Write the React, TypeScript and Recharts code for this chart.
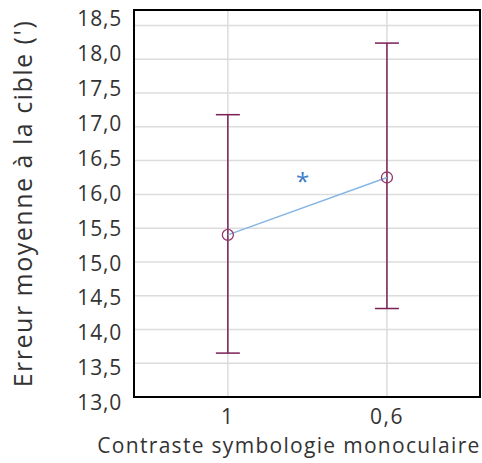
import React from 'react';
import { ComposedChart, Line, XAxis, YAxis, CartesianGrid, ErrorBar, ReferenceDot, ReferenceArea } from 'recharts';

// contraste de la symbologie (axe x) et erreur moyenne mesurée (IC 95 %)
const conditions = ['1', '0,6'];
const meanError = [15.4, 16.25];
const lowerBound = [13.65, 14.31];
const upperBound = [17.18, 18.24];
const yTicks = [13.0, 13.5, 14.0, 14.5, 15.0, 15.5, 16.0, 16.5, 17.0, 17.5, 18.0, 18.5];
const significance = { x: 0.47, y: 16.24, text: '*' };

const data = conditions.map((label, i) => ({
  pos: i,
  label,
  mean: meanError[i],
  ci: [meanError[i] - lowerBound[i], upperBound[i] - meanError[i]],
}));

const X_DOMAIN: [number, number] = [-0.59, 1.585];
const Y_DOMAIN: [number, number] = [13, 18.73];

const FONT = '"Open Sans", "Noto Sans", sans-serif';
const TEXT = '#333';
const PLUM = '#7a1f55';

const fmt = (v: number) => v.toFixed(1).replace('.', ',');

// the original labels are spread a bit wider than the gridlines
const YTick = ({ x, y, payload }: any) => (
  <text
    x={x}
    y={y}
    dy={(15.3 - payload.value) * 2.2}
    textAnchor="end"
    dominantBaseline="central"
    fill={TEXT}
    fontSize={21}
    letterSpacing={0.8}
    fontFamily={FONT}
  >
    {fmt(payload.value)}
  </text>
);

const Star = ({ cx, cy }: any) => (
  <text x={cx} y={cy} dy={12} textAnchor="middle" fill="#3d7cc9" fontSize={24} fontFamily={FONT}>
    {significance.text}
  </text>
);

export default function App() {
  return (
    <div style={{ position: 'absolute', left: 0, top: 0, fontFamily: FONT }}>
      <ComposedChart width={482} height={463} data={data} margin={{ top: 10, right: 2, bottom: 0, left: 0 }}>
        <CartesianGrid stroke="#dcdcdc" strokeWidth={1.5} />
        <XAxis
          dataKey="pos"
          type="number"
          domain={X_DOMAIN}
          ticks={[0, 1]}
          tickFormatter={(v: number) => conditions[v]}
          axisLine={{ stroke: '#000', strokeWidth: 2 }}
          tickLine={false}
          tickSize={0}
          tickMargin={12}
          height={66}
          tick={{ fill: TEXT, fontSize: 21, letterSpacing: 1.5 }}
          label={{
            value: 'Contraste symbologie monoculaire',
            position: 'insideBottom',
            offset: 10,
            dx: -18,
            fill: TEXT,
            fontSize: 21,
            style: { letterSpacing: '1.3px' },
          }}
        />
        <YAxis
          type="number"
          domain={Y_DOMAIN}
          ticks={yTicks}
          allowDataOverflow
          axisLine={{ stroke: '#000', strokeWidth: 2 }}
          tickLine={false}
          tickSize={0}
          tickMargin={12}
          width={134}
          tick={<YTick />}
          label={{
            value: "Erreur moyenne à la cible (')",
            angle: -90,
            position: 'insideLeft',
            offset: 23,
            fill: TEXT,
            fontSize: 25,
            style: { textAnchor: 'middle', letterSpacing: '1.5px' },
          }}
        />
        {/* cadre noir autour de la zone de tracé */}
        <ReferenceArea
          x1={X_DOMAIN[0]}
          x2={X_DOMAIN[1]}
          y1={Y_DOMAIN[0]}
          y2={Y_DOMAIN[1]}
          fill="none"
          stroke="#000"
          strokeWidth={2}
          ifOverflow="visible"
        />
        <Line
          dataKey="mean"
          stroke="#85b6e3"
          strokeWidth={1.5}
          dot={{ r: 5.5, stroke: '#93376b', strokeWidth: 1.3, fill: 'none' }}
          activeDot={false}
          isAnimationActive={false}
        >
          <ErrorBar dataKey="ci" direction="y" width={12} stroke={PLUM} strokeWidth={1.5} isAnimationActive={false} />
        </Line>
        <ReferenceDot x={significance.x} y={significance.y} r={0} shape={<Star />} />
      </ComposedChart>
    </div>
  );
}
